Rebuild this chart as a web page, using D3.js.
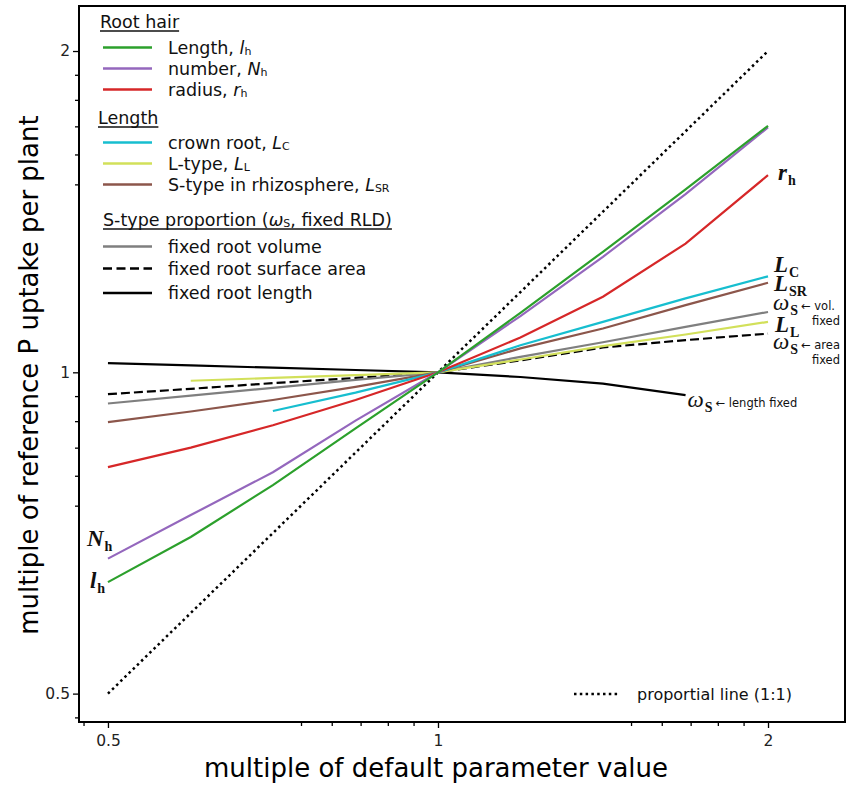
<!DOCTYPE html>
<html>
<head>
<meta charset="utf-8">
<script src="https://cdn.jsdelivr.net/npm/d3@7"></script>
<style>
	body { margin: 0; background: #fff; }
	svg { display: block; font-family: "DejaVu Sans", sans-serif; }
</style>
</head>
<body>
<svg id="chart" width="849" height="785"></svg>
<script>
// =================================================
// data
// =================================================
var xVals = [0.5, 0.595, 0.707, 0.841, 1, 1.189, 1.414, 1.682, 2];

var hairLength = [0.636, 0.701, 0.784, 0.886, 1, 1.137, 1.297, 1.484, 1.702];
var hairNumber = [0.669, 0.735, 0.806, 0.901, 1, 1.129, 1.283, 1.469, 1.696];
var hairRadius = [0.815, 0.850, 0.892, 0.942, 1, 1.078, 1.177, 1.320, 1.530];
var crownRoot = [null, null, 0.920, 0.957, 1, 1.060, 1.115, 1.173, 1.230];
var lType = [null, 0.982, 0.988, 0.994, 1, 1.028, 1.058, 1.085, 1.115];
var sTypeRhizo = [0.898, 0.919, 0.942, 0.969, 1, 1.053, 1.099, 1.156, 1.213];
var fixedVolume = [0.935, 0.951, 0.967, 0.984, 1, 1.034, 1.067, 1.103, 1.139];
var fixedArea = [0.954, 0.965, 0.977, 0.988, 1, 1.026, 1.055, 1.072, 1.087];
var fixedLength = [1.020, 1.015, 1.010, 1.005, 1, 0.990, 0.976, 0.952, null];

var propX = [0.5, 2];
var propY = [0.5, 2];

var majorTicks = [0.5, 1, 2];
var minorTicks = [0.475, 0.75, 0.8, 0.85, 0.9, 0.95, 1.5, 1.6, 1.7, 1.8, 1.9];

(function() {
	var svg = d3.select("#chart");

	var left = 79, right = 845, top = 6, bottom = 722;

	var x = d3.scaleLog().base(2).domain([0.4705, 2.351]).range([left, right]);
	var y = d3.scaleLog().base(2).domain([0.4703, 2.204]).range([bottom, top]);

	// =================================================
	// axes
	// =================================================
	var fmt = d3.format("");

	var gx = svg.append("g").attr("transform", "translate(0," + bottom + ")");
	gx.call(d3.axisBottom(x).tickValues(majorTicks).tickFormat(fmt).tickSize(6).tickSizeOuter(0));
	gx.append("g").call(d3.axisBottom(x).tickValues(minorTicks).tickFormat("").tickSize(4).tickSizeOuter(0));

	var gy = svg.append("g").attr("transform", "translate(" + left + ",0)");
	gy.call(d3.axisLeft(y).tickValues(majorTicks).tickFormat(fmt).tickSize(6).tickSizeOuter(0));
	gy.append("g").call(d3.axisLeft(y).tickValues(minorTicks).tickFormat("").tickSize(4).tickSizeOuter(0));

	svg.selectAll(".domain").remove();
	svg.selectAll(".tick line").attr("stroke", "#000").attr("stroke-width", 1.3);
	svg.selectAll(".tick text")
		.attr("font-family", "DejaVu Sans")
		.attr("font-size", 15.5)
		.attr("fill", "#222");
	gx.selectAll(".tick text").attr("dy", "0.95em");

	svg.append("rect")
		.attr("x", left).attr("y", top)
		.attr("width", right - left).attr("height", bottom - top)
		.attr("fill", "none").attr("stroke", "#000").attr("stroke-width", 2);

	svg.append("text")
		.attr("x", 436).attr("y", 777)
		.attr("text-anchor", "middle")
		.attr("font-size", 26)
		.text("multiple of default parameter value");

	svg.append("text")
		.attr("transform", "translate(38,375) rotate(-90)")
		.attr("text-anchor", "middle")
		.attr("font-size", 26)
		.text("multiple of reference P uptake per plant");

	// =================================================
	// lines
	// =================================================
	var line = d3.line()
		.defined(function(d) { return d[1] != null; })
		.x(function(d) { return x(d[0]); })
		.y(function(d) { return y(d[1]); });

	function draw(vals, color, dash, xs) {
		var pts = (xs || xVals).map(function(v, i) { return [v, vals[i]]; });
		svg.append("path")
			.datum(pts)
			.attr("d", line)
			.attr("fill", "none")
			.attr("stroke", color)
			.attr("stroke-width", dash === "dot" ? 2.5 : 2.2)
			.attr("stroke-dasharray", dash === "dot" ? "2.5,3.3" : dash === "dash" ? "9,4" : null);
	}

	draw(propY, "#000", "dot", propX);
	draw(fixedLength, "#000");
	draw(fixedArea, "#000", "dash");
	draw(fixedVolume, "#7f7f7f");
	draw(lType, "#d2e05a");
	draw(sTypeRhizo, "#8c564b");
	draw(crownRoot, "#17becf");
	draw(hairRadius, "#d62728");
	draw(hairNumber, "#9467bd");
	draw(hairLength, "#2ca02c");

	// =================================================
	// line labels
	// =================================================
	function mathLabel(px, py, main, sub, italicOnly) {
		var t = svg.append("text")
			.attr("x", px).attr("y", py)
			.attr("font-family", "Liberation Serif")
			.attr("fill", "#111");
		t.append("tspan")
			.attr("font-size", 23)
			.attr("font-style", "italic")
			.attr("font-weight", italicOnly ? "normal" : "bold")
			.text(main);
		t.append("tspan")
			.attr("font-size", 14)
			.attr("font-weight", "bold")
			.attr("dy", 5)
			.attr("dx", 1)
			.text(sub);
		return t;
	}

	function omegaLabel(px, py, note1, note2) {
		mathLabel(px, py, "ω", "S", true);
		svg.append("text")
			.attr("x", px + 28).attr("y", py)
			.attr("font-size", 11.5)
			.attr("fill", "#111")
			.text(note1);
		if (note2) {
			svg.append("text")
				.attr("x", px + 67).attr("y", py + 15)
				.attr("font-size", 11.5)
				.attr("text-anchor", "end")
				.attr("fill", "#111")
				.text(note2);
		}
	}

	var xEnd = x(2);
	mathLabel(xEnd + 10, y(1.530) + 5, "r", "h");
	mathLabel(xEnd + 6, y(1.230) - 4, "L", "C");
	mathLabel(xEnd + 6, y(1.213) + 8, "L", "SR");
	omegaLabel(xEnd + 5, y(1.139) - 2, "← vol.", "fixed");
	mathLabel(xEnd + 7, y(1.115) + 10, "L", "L");
	omegaLabel(xEnd + 5, y(1.087) + 15, "← area", "fixed");
	omegaLabel(x(1.682) + 2, y(0.952) + 12, "← length fixed");
	mathLabel(x(0.5) - 21, y(0.669) - 13, "N", "h");
	mathLabel(x(0.5) - 18, y(0.636) + 6, "l", "h");

	// =================================================
	// legend
	// =================================================
	var lg = svg.append("g").attr("font-size", 17.5).attr("fill", "#111");

	function header(px, py, parts) {
		var t = richText(px, py, parts);
		var w = t.node().getComputedTextLength();
		lg.append("line")
			.attr("x1", px).attr("x2", px + w)
			.attr("y1", py + 3).attr("y2", py + 3)
			.attr("stroke", "#111").attr("stroke-width", 1.4);
	}

	function richText(px, py, parts) {
		var t = lg.append("text").attr("x", px).attr("y", py);
		parts.forEach(function(p) {
			var s = t.append("tspan").text(p[0]);
			if (p[1] === "i") s.attr("font-style", "italic");
			if (p[1] === "sub") s.attr("font-size", 11).attr("dy", 1);
			if (p[1] === "up") s.attr("dy", -1);
		});
		return t;
	}

	function item(py, color, dash, parts) {
		lg.append("line")
			.attr("x1", 103).attr("x2", 152)
			.attr("y1", py).attr("y2", py)
			.attr("stroke", color)
			.attr("stroke-width", 2.7)
			.attr("stroke-dasharray", dash ? "9,4.5" : null);
		richText(168, py + 6, parts);
	}

	header(100, 28, [["Root hair"]]);
	item(47.5, "#2ca02c", false, [["Length, "], ["l", "i"], ["h", "sub"]]);
	item(68.5, "#9467bd", false, [["number, "], ["N", "i"], ["h", "sub"]]);
	item(89.5, "#d62728", false, [["radius, "], ["r", "i"], ["h", "sub"]]);

	header(98, 124, [["Length"]]);
	item(142.5, "#17becf", false, [["crown root, "], ["L", "i"], ["C", "sub"]]);
	item(163.5, "#d2e05a", false, [["L-type, "], ["L", "i"], ["L", "sub"]]);
	item(184.5, "#8c564b", false, [["S-type in rhizosphere, "], ["L", "i"], ["SR", "sub"]]);

	header(103, 226, [["S-type proportion ("], ["ω", "i"], ["S", "sub"], [", fixed RLD)", "up"]]);
	item(246.5, "#7f7f7f", false, [["fixed root volume"]]);
	item(268.5, "#000", true, [["fixed root surface area"]]);
	item(293, "#000", false, [["fixed root length"]]);

	// proportional line legend
	lg.append("line")
		.attr("x1", 574).attr("x2", 620)
		.attr("y1", 694).attr("y2", 694)
		.attr("stroke", "#000").attr("stroke-width", 2.5)
		.attr("stroke-dasharray", "2.5,3.3");
	lg.append("text")
		.attr("x", 637).attr("y", 700)
		.attr("font-size", 16)
		.text("proportial line (1:1)");
})();
</script>
</body>
</html>
